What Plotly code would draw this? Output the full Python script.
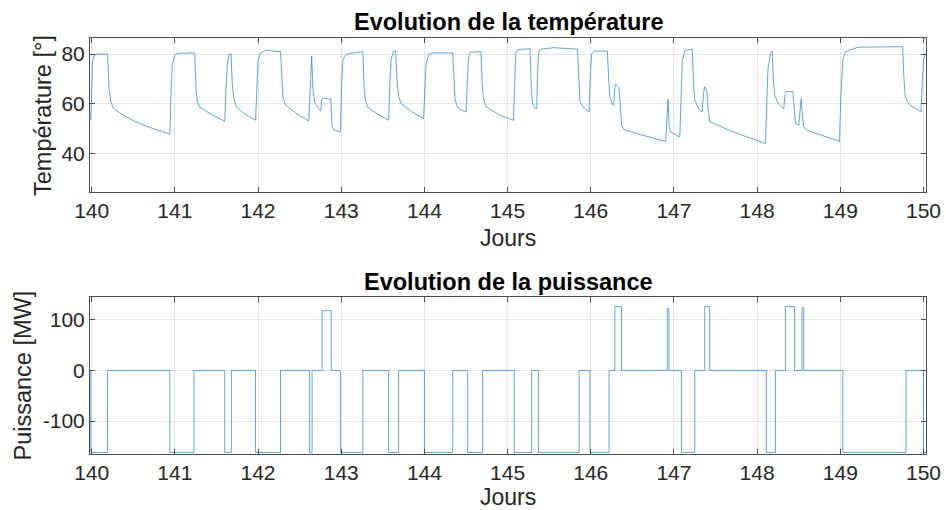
import plotly.graph_objects as go

# ---- Data ----
temp_days = [139.99, 140.00, 140.01, 140.03, 140.06, 140.19, 140.21, 140.23, 140.26, 140.35, 140.50, 140.70, 140.94,
             140.955, 140.97, 141.00, 141.03, 141.24, 141.255, 141.27, 141.30, 141.45, 141.60,
             141.615, 141.63, 141.65, 141.675, 141.69, 141.71, 141.74, 141.85, 141.97,
             141.985, 142.00, 142.03, 142.08, 142.13, 142.18, 142.27, 142.285, 142.30, 142.33, 142.45, 142.61,
             142.625, 142.645, 142.66, 142.68, 142.72, 142.755, 142.765, 142.78, 142.875, 142.89, 142.91, 142.99,
             143.005, 143.02, 143.05, 143.10, 143.26, 143.275, 143.29, 143.32, 143.45, 143.57,
             143.585, 143.60, 143.63, 143.655, 143.67, 143.69, 143.72, 143.85, 143.99,
             144.005, 144.02, 144.05, 144.10, 144.34, 144.355, 144.37, 144.40, 144.45, 144.50,
             144.515, 144.53, 144.55, 144.68, 144.695, 144.71, 144.74, 144.90, 145.07,
             145.085, 145.10, 145.13, 145.20, 145.27, 145.285, 145.30, 145.33, 145.35,
             145.36, 145.375, 145.40, 145.55, 145.84, 145.855, 145.87, 145.91, 145.98,
             145.995, 146.01, 146.04, 146.20, 146.215, 146.23, 146.26, 146.275, 146.29, 146.30, 146.34,
             146.355, 146.37, 146.40, 146.60, 146.90, 146.915, 146.93, 146.94, 146.955, 147.07,
             147.085, 147.10, 147.13, 147.22, 147.235, 147.25, 147.30, 147.34, 147.355, 147.37, 147.395,
             147.41, 147.43, 147.70, 148.10, 148.115, 148.13, 148.16, 148.18, 148.195, 148.21, 148.26, 148.32,
             148.335, 148.35, 148.43, 148.445, 148.46, 148.50, 148.515, 148.53, 148.545, 148.56, 148.60,
             148.80, 148.99, 149.005, 149.03, 149.06, 149.12, 149.22, 149.50, 149.75, 149.765, 149.78,
             149.83, 149.97, 149.985, 150.00, 150.03]
temp_vals = [53.3, 68, 76.5, 79.5, 80, 80, 66, 60.7, 58.3, 56, 53.2, 50.4, 47.7,
             65, 76, 79.5, 80.3, 80.5, 66, 61, 58.5, 55.5, 52.9,
             66, 76, 79.7, 80.2, 68, 62, 58.6, 55.7, 53.3,
             68, 77.5, 80.5, 81.3, 81.6, 81.2, 81, 68, 62.5, 59.5, 56.3, 53,
             68, 79.2, 66, 60.5, 58.5, 57.2, 61.5, 62.3, 61.8, 51, 49.5, 48.7,
             68, 77.5, 79.5, 80.2, 81, 67, 61.5, 58.5, 55.5, 53.3,
             68, 78, 81, 81.3, 70, 63, 60, 56.8, 54,
             68, 76, 79.8, 80.5, 80.5, 67, 61.4, 58.5, 57.3, 56.7,
             70, 78.5, 80.8, 81, 68, 62.1, 58.8, 55.5, 53.3,
             72, 80.5, 81.8, 82, 82.2, 66, 60.2, 58.2, 58,
             72, 80.8, 82, 82.6, 82, 68, 61, 58.5, 56.7,
             72, 80, 81.2, 81.2, 70, 63, 59.8, 59.4, 66.5, 67.9, 66.5,
             58, 51.5, 49.6, 47.5, 44.8, 55, 61.8, 52, 48.6, 46.6,
             66, 77, 81.5, 82, 68, 61.4, 57.8, 56.7, 64, 66.8, 65.4,
             58, 52.7, 48.8, 43.9, 62, 74, 80.3, 81.3, 70, 63.4, 59.8, 58,
             63.5, 65, 64.8, 57, 52, 51.3, 56, 62.1, 55, 50.6, 49.3,
             47, 44.8, 62, 77.6, 80.8, 81.8, 82.8, 83, 83, 70, 62.8,
             59.6, 56.7, 68, 77.6, 80.7]

power_days = [139.98, 139.99, 140.19, 140.94, 141.23, 141.60, 141.68, 141.97, 142.27, 142.62, 142.65,
              142.77, 142.88, 142.99, 143.26, 143.57, 143.69, 144.00, 144.34, 144.52, 144.70, 145.08,
              145.29, 145.37, 145.86, 145.99, 146.22, 146.29, 146.37, 146.92, 146.94, 147.09, 147.25,
              147.37, 147.43, 148.11, 148.22, 148.34, 148.45, 148.54, 148.56, 149.03, 149.79, 150.00, 150.03]
power_vals = [0, -162, 0, -162, 0, -162, 0, -162, 0, -162, 0,
              118, 0, -162, 0, -162, 0, -162, 0, -162, 0, -162,
              0, -162, 0, -162, 0, 126, 0, 122, 0, -162, 0,
              126, 0, -162, 0, 126, 0, 124, 0, -162, 0, -162, -162]

x_ticks = [140, 141, 142, 143, 144, 145, 146, 147, 148, 149, 150]
temp_ticks = [40, 60, 80]
power_ticks = [-100, 0, 100]
power_ticklabels = ["-100", "0", "100"]

# ---- Figure ----
W, H = 946, 510
LINE = "#1f7fc8"
AX = "#4d4d4d"
TXT = "#262626"
FONT = "Liberation Sans"

def py(px):
    return 1 - px / H

def pxx(px):
    return px / W

fig = go.Figure()
fig.add_trace(go.Scatter(x=temp_days, y=temp_vals, mode="lines",
                         line=dict(color=LINE, width=0.7), xaxis="x", yaxis="y",
                         showlegend=False))
fig.add_trace(go.Scatter(x=power_days, y=power_vals, mode="lines",
                         line=dict(color=LINE, width=0.7, shape="hv"), xaxis="x2", yaxis="y2",
                         showlegend=False))

common = dict(showline=True, linecolor=AX, linewidth=1, mirror="ticks",
              ticks="inside", ticklen=5, tickcolor=AX, tickwidth=1,
              showgrid=True, gridcolor="#e6e6e6", gridwidth=1, zeroline=False,
              tickfont=dict(family=FONT, size=21, color=TXT), automargin=False)

xdom = [pxx(90), pxx(926)]
xr = [139.98, 150.03]
fig.update_layout(
    width=W, height=H,
    margin=dict(l=0, r=0, t=0, b=0),
    paper_bgcolor="white", plot_bgcolor="white",
    xaxis=dict(domain=xdom, range=xr, tickvals=x_ticks, anchor="y", **common),
    yaxis=dict(domain=[py(192), py(38)], range=[24.4, 86.5], tickvals=temp_ticks, anchor="x", **common),
    xaxis2=dict(domain=xdom, range=xr, tickvals=x_ticks, anchor="y2", **common),
    yaxis2=dict(domain=[py(454), py(297)], range=[-165, 145], tickvals=power_ticks,
                ticktext=power_ticklabels, anchor="x2", **common),
)

cx = pxx((90 + 926) / 2)
ann = [
    dict(text="<b>Evolution de la température</b>", x=cx, y=py(22), size=23.5, color="black"),
    dict(text="Jours", x=cx, y=py(238), size=23, color=TXT),
    dict(text="<b>Evolution de la puissance</b>", x=cx, y=py(282), size=23.5, color="black"),
    dict(text="Jours", x=cx, y=py(497), size=23, color=TXT),
]
for a in ann:
    fig.add_annotation(text=a["text"], x=a["x"], y=a["y"], xref="paper", yref="paper",
                       xanchor="center", yanchor="middle", showarrow=False,
                       font=dict(family=FONT, size=a["size"], color=a["color"]))
fig.add_annotation(text="Température [°]", x=pxx(43), y=py(116), xref="paper", yref="paper",
                   xanchor="center", yanchor="middle", showarrow=False, textangle=-90,
                   font=dict(family=FONT, size=23.5, color=TXT))
fig.add_annotation(text="Puissance [MW]", x=pxx(22.5), y=py(376), xref="paper", yref="paper",
                   xanchor="center", yanchor="middle", showarrow=False, textangle=-90,
                   font=dict(family=FONT, size=23.5, color=TXT))

fig.write_html("out.html", config={"displayModeBar": False},
               post_script="document.body.style.margin='0';document.body.style.overflow='hidden';")
